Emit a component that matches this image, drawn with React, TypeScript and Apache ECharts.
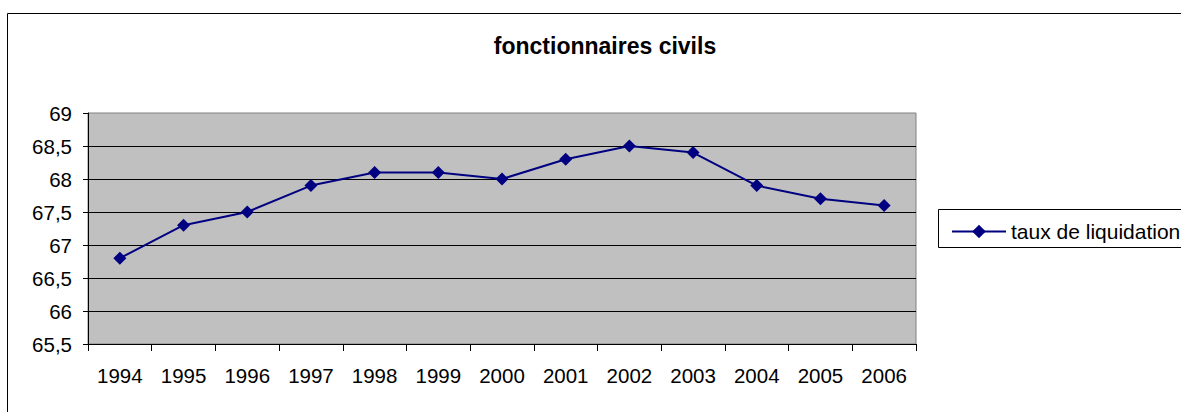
import React, { useEffect, useRef } from "react";
import * as echarts from "echarts";

const categories = ["1994", "1995", "1996", "1997", "1998", "1999", "2000", "2001", "2002", "2003", "2004", "2005", "2006"];
const seriesName = "taux de liquidation";
const values = [66.8, 67.3, 67.5, 67.9, 68.1, 68.1, 68.0, 68.3, 68.5, 68.4, 67.9, 67.7, 67.6];
const titleText = "fonctionnaires civils";
const yMin = 65.5;
const yMax = 69;
const yInterval = 0.5;

export default function App() {
  const ref = useRef<HTMLDivElement>(null);
  useEffect(() => {
    if (!ref.current) return;
    const chart = echarts.init(ref.current, null, { renderer: "svg" });
    const font = "Liberation Sans, Arial, sans-serif";
    chart.setOption({
      animation: false,
      backgroundColor: "#ffffff",
      title: {
        text: titleText,
        left: 600,
        textAlign: "center",
        top: 29,
        textStyle: { fontFamily: font, fontSize: 23, fontWeight: "bold", color: "#000" },
      },
      legend: {
        left: 946,
        top: 216,
        itemWidth: 54,
        itemHeight: 17,
        itemGap: 5,
        textStyle: { fontFamily: font, fontSize: 21, color: "#000" },
        data: [seriesName],
      },
      graphic: [
        {
          type: "rect",
          shape: { x: 7.5, y: 13.5, width: 1400, height: 600 },
          style: { fill: "none", stroke: "#000", lineWidth: 1 },
          silent: true,
        },
        {
          type: "rect",
          shape: { x: 938.5, y: 209.5, width: 400, height: 38 },
          style: { fill: "#fff", stroke: "#000", lineWidth: 1 },
          silent: true,
          z: -1,
        },
      ],
      grid: {
        left: 88,
        top: 113,
        width: 828,
        height: 231,
        show: true,
        backgroundColor: "#c0c0c0",
        borderColor: "#808080",
        borderWidth: 1,
        containLabel: false,
      },
      xAxis: {
        type: "category",
        data: categories,
        boundaryGap: true,
        axisLine: { show: true, lineStyle: { color: "#000", width: 1 } },
        axisTick: { show: true, length: 7, inside: false, lineStyle: { color: "#000" } },
        axisLabel: { fontFamily: font, fontSize: 20.5, color: "#000", margin: 21 },
        splitLine: { show: false },
      },
      yAxis: {
        type: "value",
        min: yMin,
        max: yMax,
        interval: yInterval,
        axisLine: { show: true, lineStyle: { color: "#000", width: 1 } },
        axisTick: { show: true, length: 5, lineStyle: { color: "#000" } },
        axisLabel: {
          fontFamily: font,
          fontSize: 20.5,
          color: "#000",
          margin: 16,
          formatter: (v: number) => String(v).replace(".", ","),
        },
        splitLine: { show: true, showMaxLine: false, lineStyle: { color: "#000", width: 1 } },
      },
      series: [
        {
          name: seriesName,
          type: "line",
          data: values,
          symbol: "diamond",
          symbolSize: 13,
          lineStyle: { color: "#000080", width: 2 },
          itemStyle: { color: "#000080" },
        },
      ],
    });
    return () => chart.dispose();
  }, []);
  return (
    <div
      ref={ref}
      style={{ position: "fixed", left: 0, top: 0, width: 1181, height: 412 }}
    />
  );
}
